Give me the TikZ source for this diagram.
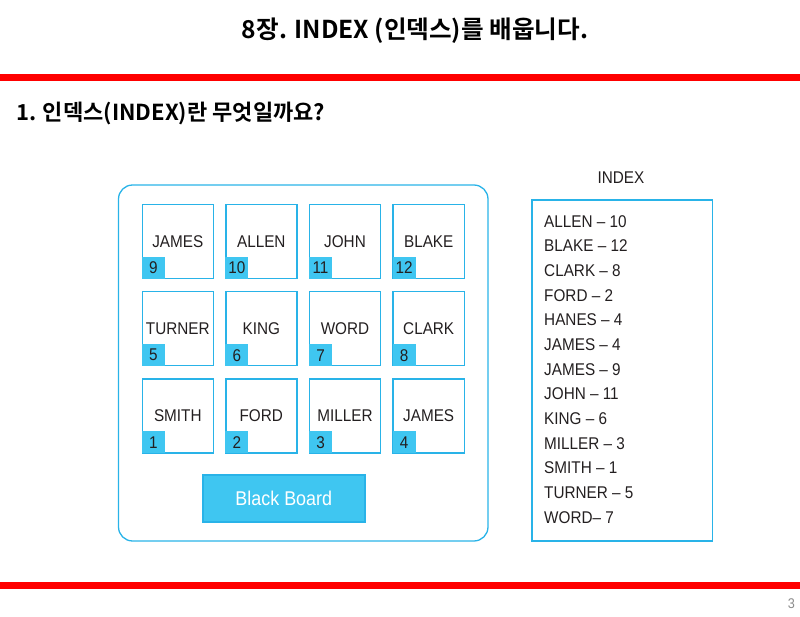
\documentclass[tikz,border=0pt]{standalone}
\usepackage{fontspec}
\usetikzlibrary{positioning}
\newfontfamily\kr{Noto Sans CJK KR}[BoldFont={Noto Sans CJK KR Bold}]
\newfontfamily\lab{Liberation Sans}[FakeStretch=0.9]
\definecolor{barred}{HTML}{FF0000}
\definecolor{skyline}{HTML}{29B3E8}
\definecolor{skyfill}{HTML}{3FC6F1}
\definecolor{ink}{HTML}{231F20}

\begin{document}
\begin{tikzpicture}[
  x=0.03cm, y=-0.03cm,
  seat/.style={draw=skyline, line width=1.2pt, minimum width=2.13cm,
               minimum height=2.22cm, inner sep=0pt,
               font=\lab\fontsize{14.5}{16}\selectfont, text=ink},
  tab/.style={fill=skyfill, anchor=south west, minimum width=0.69cm,
              minimum height=0.66cm, inner sep=0pt,
              font=\lab\fontsize{14.5}{16}\selectfont, text=ink},
  board/.style={draw=skyline, line width=1.2pt, fill=skyfill,
                minimum width=4.86cm, minimum height=1.41cm,
                font=\lab\fontsize{17}{18}\selectfont, text=white},
  idx/.style={font=\lab\fontsize{14.5}{21.06}\selectfont, text=ink,
              align=left, inner sep=0pt}
]
\useasboundingbox (0,0) rectangle (800,617);

% header
\node[font=\kr\bfseries\fontsize{21}{24}\selectfont] (title) at (415,31)
  {8장. INDEX (인덱스)를 배웁니다.};
\fill[barred] (0,74) rectangle (800,81);
\node[font=\kr\bfseries\fontsize{18.8}{22}\selectfont, anchor=west] (sub)
  at (12,113) {1. 인덱스(INDEX)란 무엇일까요?};

% classroom
\draw[skyline, line width=1.1pt, rounded corners=12pt] (118.5,185) rectangle (488,541);

\node[seat] (s9)  at (177.8,241.3) {JAMES};
\node[seat] (s10) at (261.3,241.3) {ALLEN};
\node[seat] (s11) at (345,241.3)   {JOHN};
\node[seat] (s12) at (428.7,241.3) {BLAKE};
\node[seat] (s5)  at (177.8,328.7) {TURNER};
\node[seat] (s6)  at (261.3,328.7) {KING};
\node[seat] (s7)  at (345,328.7)   {WORD};
\node[seat] (s8)  at (428.7,328.7) {CLARK};
\node[seat] (s1)  at (177.8,416)   {SMITH};
\node[seat] (s2)  at (261.3,416)   {FORD};
\node[seat] (s3)  at (345,416)     {MILLER};
\node[seat] (s4)  at (428.7,416)   {JAMES};

\node[tab] (t9)  at (s9.south west)  {9};
\node[tab] (t10) at (s10.south west) {10};
\node[tab] (t11) at (s11.south west) {11};
\node[tab] (t12) at (s12.south west) {12};
\node[tab] (t5)  at (s5.south west)  {5};
\node[tab] (t6)  at (s6.south west)  {6};
\node[tab] (t7)  at (s7.south west)  {7};
\node[tab] (t8)  at (s8.south west)  {8};
\node[tab] (t1)  at (s1.south west)  {1};
\node[tab] (t2)  at (s2.south west)  {2};
\node[tab] (t3)  at (s3.south west)  {3};
\node[tab] (t4)  at (s4.south west)  {4};

\node[board] (bb) at (283.8,498.5) {Black Board};

% index
\node[font=\lab\fontsize{14.5}{16}\selectfont, text=ink] (head) at (621,178) {INDEX};
\draw[skyline, line width=1.2pt] (532,200) rectangle (712.5,541);
\node[idx, anchor=north west] (list) at (544,215)
  {ALLEN – 10\\BLAKE – 12\\CLARK – 8\\FORD – 2\\HANES – 4\\JAMES – 4\\
   JAMES – 9\\JOHN – 11\\KING – 6\\MILLER – 3\\SMITH – 1\\TURNER – 5\\WORD– 7};

% footer
\fill[barred] (0,582) rectangle (800,589);
\node[font=\lab\fontsize{12}{14}\selectfont, text=black!45] (page) at (791.5,604) {3};
\end{tikzpicture}
\end{document}
